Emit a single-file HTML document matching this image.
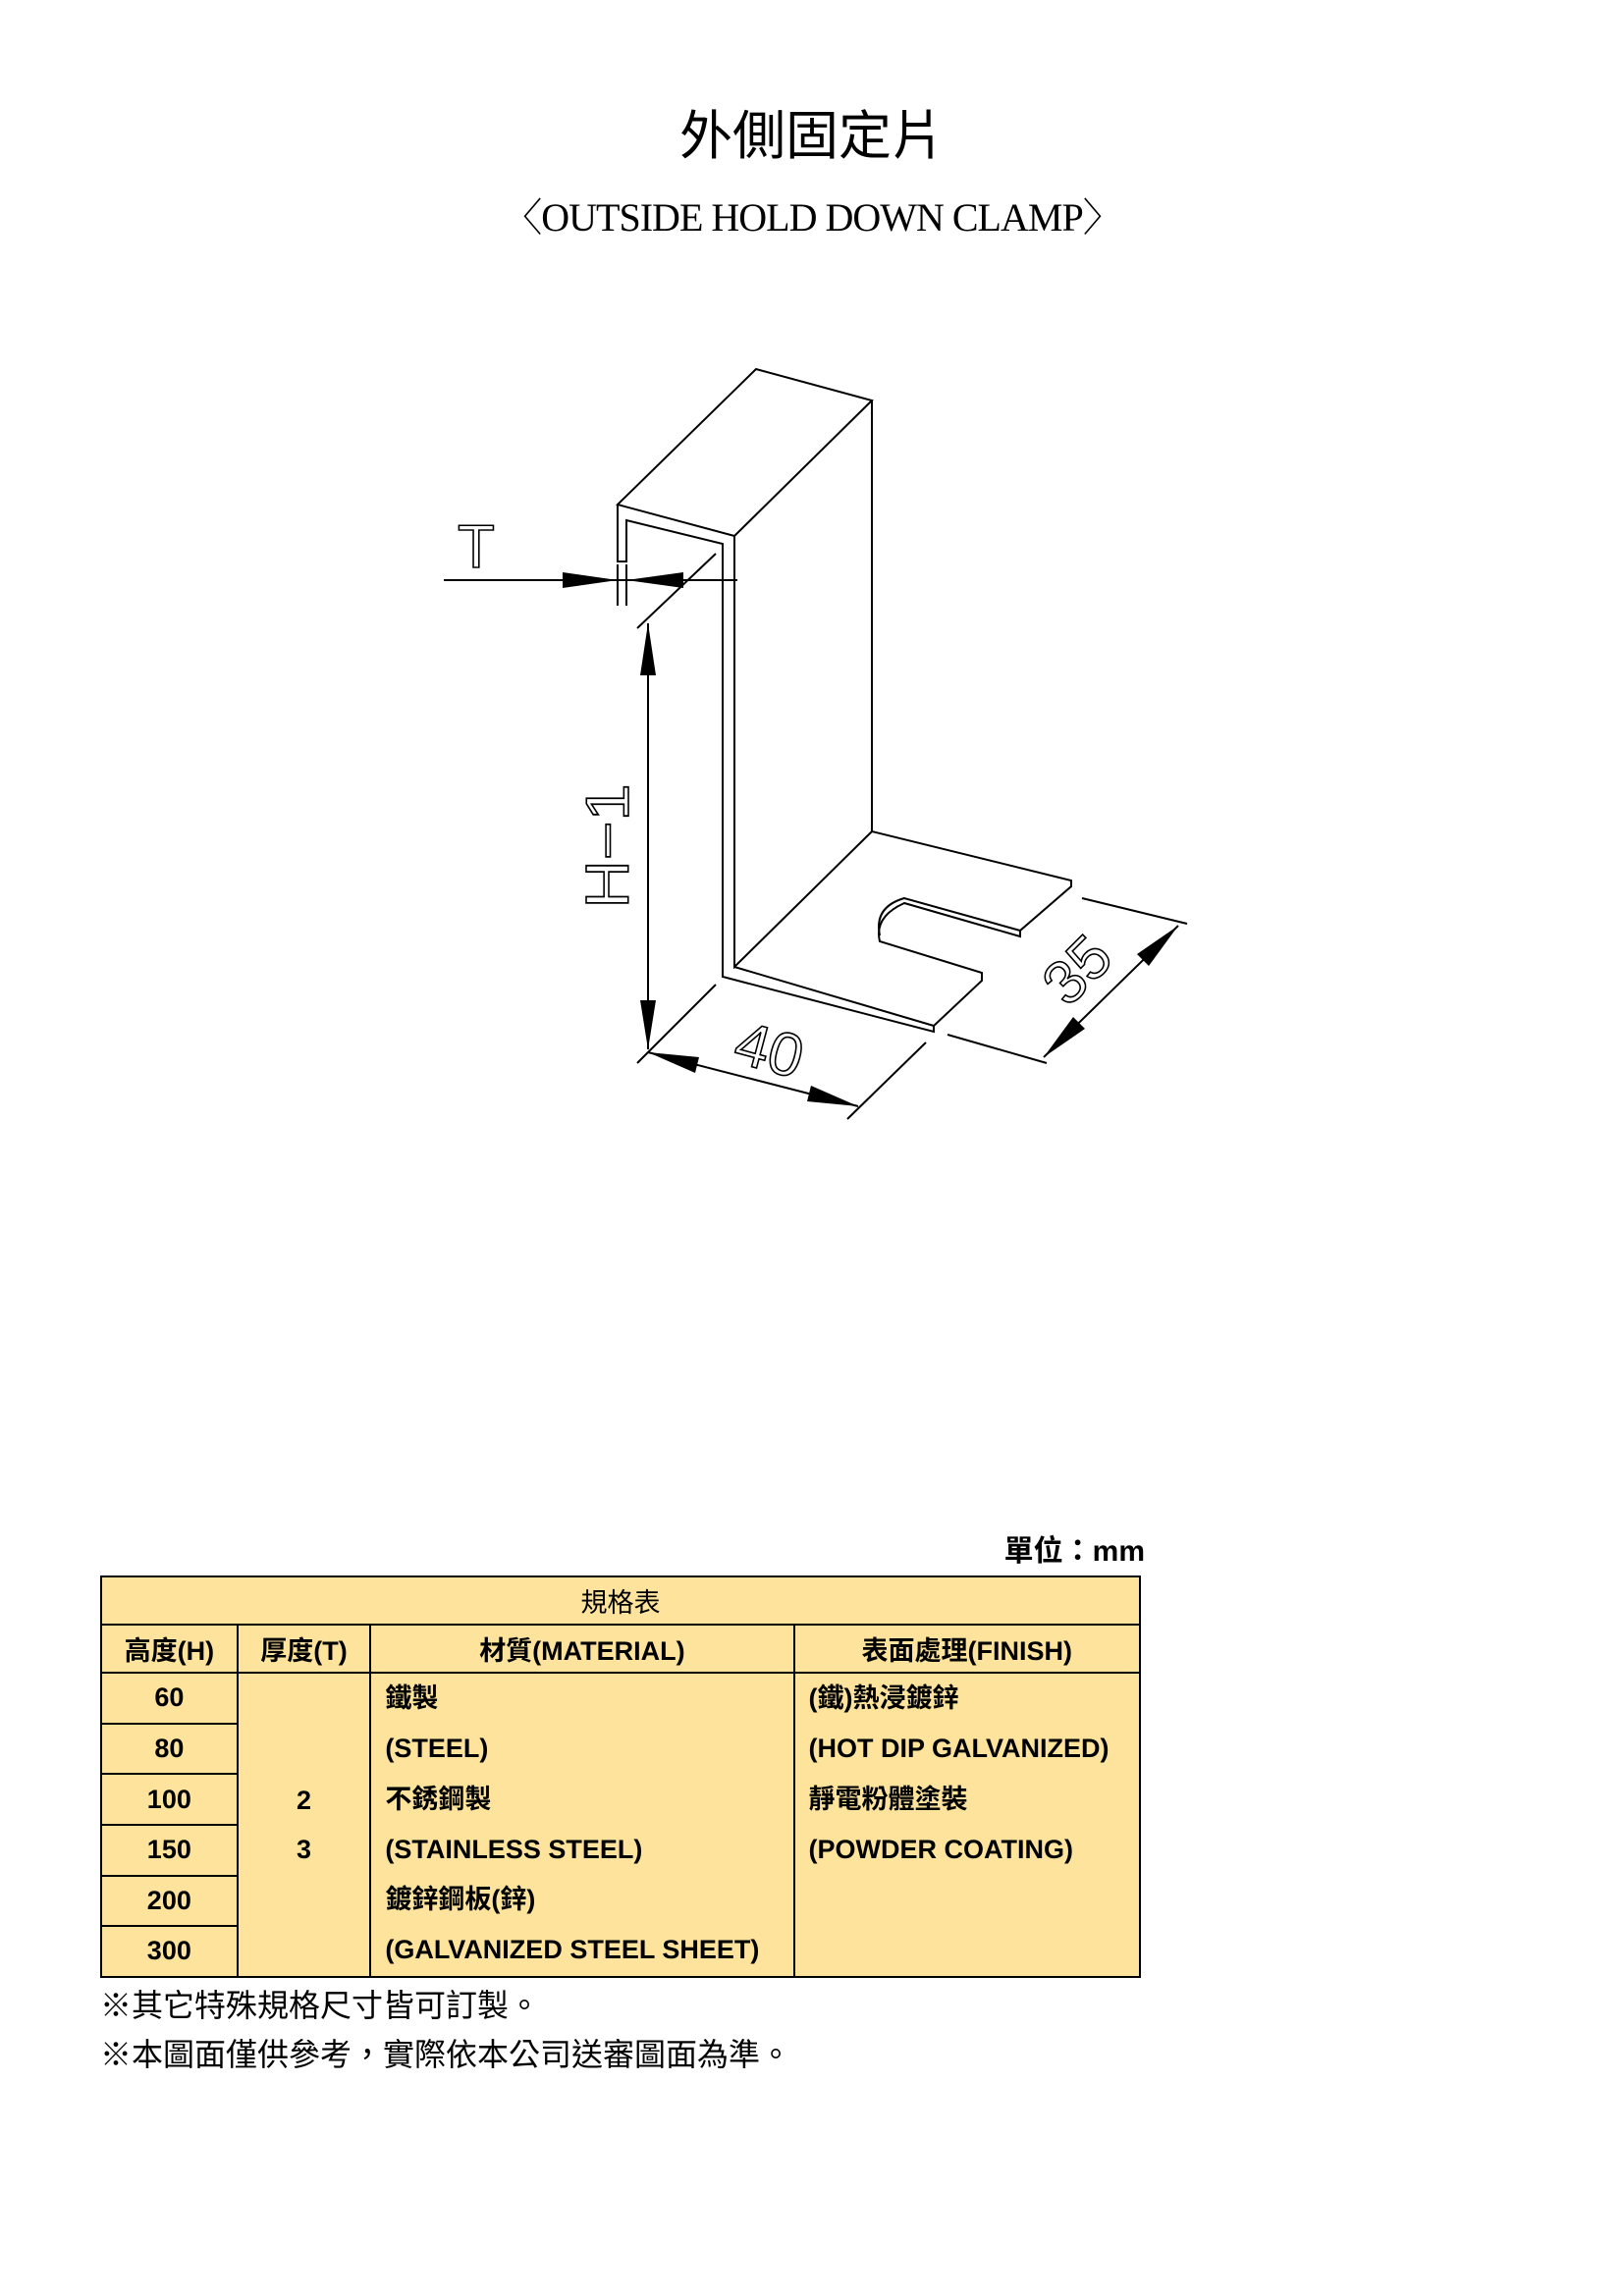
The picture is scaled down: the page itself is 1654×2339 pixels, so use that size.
<!DOCTYPE html>
<html><head><meta charset="utf-8"><style>
body{margin:0;background:#fff;}
.page{position:relative;width:1654px;height:2339px;overflow:hidden;font-family:"Liberation Sans","Noto Sans CJK TC",sans-serif;}
.t1{position:absolute;left:0;width:1654px;top:102px;text-align:center;font-size:54px;font-family:"Noto Sans CJK TC",sans-serif;line-height:64px;}
.t2{position:absolute;left:0;width:1654px;top:196px;text-align:center;font-size:40px;font-family:"Liberation Serif","Noto Serif CJK SC",serif;line-height:52px;letter-spacing:-1px;}
table{position:absolute;left:102px;top:1605px;width:1060px;border-collapse:collapse;background:#fde39b;font-weight:bold;font-size:27px;}
td{border:2px solid #000;padding:0;height:47px;text-align:center;}
.l{text-align:left;padding-left:14px;vertical-align:top;line-height:51.3px;}
.note{position:absolute;left:102px;font-size:32px;font-family:"Noto Sans CJK TC",sans-serif;}
</style></head><body><div class="page">
<div class="t1">外側固定片</div>
<div class="t2">〈OUTSIDE HOLD DOWN CLAMP〉</div>
<svg width="1654" height="1300" style="position:absolute;left:0;top:0" fill="none" stroke="#000" stroke-width="2">
<path d="M629,514 L770,376 L888,408 L748,546 Z"/>
<path d="M888,408 L888,847"/>
<path d="M629,514 L629,572 L638,572 L638,530 L736,554 L736,995 L951,1051 L951,1045 L1000,999 L1000,991 L896,959 Q890,934 921,920 L1039,954 L1039,948 L1091,903 L1091,897 L888,847 L748,985 L748,546"/>
<path d="M748,985 L951,1045"/>
<path d="M1039,948 L921,915 Q890,924 896,953"/>
<path d="M452,591 L751,591"/>
<path d="M629,575 L629,617 M638,575 L638,617"/>
<path d="M660,635 L660,1069"/>
<path d="M649,640 L729,564 M649,1083 L729,1003"/>
<path d="M660,1072 L874,1127 M943,1062 L863,1140"/>
<path d="M965,1054 L1066,1083 M1102,915 L1209,941 M1063,1077 L1200,943"/>
</svg>
<svg width="1654" height="1300" style="position:absolute;left:0;top:0" fill="#000" stroke="none">
<polygon points="629,591 573,583 573,599"/>
<polygon points="638,591 696,583 696,599"/>
<polygon points="660,635 652,688 668,688"/>
<polygon points="660,1069 652,1019 668,1019"/>
<polygon points="660,1072 712,1077 708,1093"/>
<polygon points="874,1127 826,1106 822,1122"/>
<polygon points="1063,1077 1105,1048 1093,1036"/>
<polygon points="1200,943 1170,984 1158,972"/>
<g font-family="Liberation Sans,sans-serif" font-size="62" fill="none" stroke="#000" stroke-width="1.6">
<text x="466" y="578">T</text>
<text transform="translate(640,862) rotate(-90) scale(1.1,1)" text-anchor="middle">H−1</text>
<text transform="translate(778,1090) rotate(15)" text-anchor="middle">40</text>
<text transform="translate(1112,1003) rotate(-45)" text-anchor="middle">35</text>
</g>
</svg>
<div style="position:absolute;right:488px;top:1555px;font-size:30px;font-weight:bold;font-family:'Liberation Sans','Noto Sans CJK TC',sans-serif;">單位：mm</div>
<table>
<colgroup><col style="width:139px"><col style="width:136px"><col style="width:432px"><col style="width:353px"></colgroup>
<tr><td colspan="4" style="font-weight:normal;font-family:'Noto Sans CJK TC',sans-serif">規格表</td></tr>
<tr><td>高度(H)</td><td>厚度(T)</td><td>材質(MATERIAL)</td><td>表面處理(FINISH)</td></tr>
<tr><td>60</td><td rowspan="6" style="line-height:50px">2<br>3</td><td rowspan="6" class="l">鐵製<br>(STEEL)<br>不銹鋼製<br>(STAINLESS STEEL)<br>鍍鋅鋼板(鋅)<br>(GALVANIZED STEEL SHEET)</td><td rowspan="6" class="l">(鐵)熱浸鍍鋅<br>(HOT DIP GALVANIZED)<br>靜電粉體塗裝<br>(POWDER COATING)</td></tr>
<tr><td>80</td></tr><tr><td>100</td></tr><tr><td>150</td></tr><tr><td>200</td></tr><tr><td>300</td></tr>
</table>
<div class="note" style="top:2018px">※其它特殊規格尺寸皆可訂製。</div>
<div class="note" style="top:2068px">※本圖面僅供參考，實際依本公司送審圖面為準。</div>
</div></body></html>
